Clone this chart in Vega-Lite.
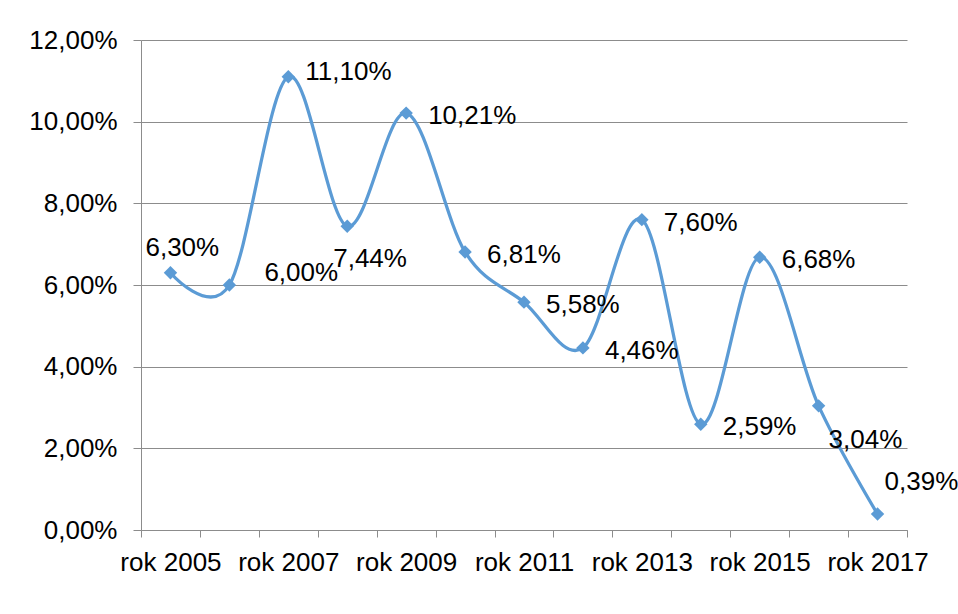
{
  "$schema": "https://vega.github.io/schema/vega-lite/v6.json",
  "width": 766,
  "height": 490,
  "autosize": {"type": "none"},
  "padding": {"left": 141, "top": 40, "right": 51, "bottom": 84},
  "background": "white",
  "config": {
    "locale": {"number": {"decimal": ",", "thousands": "\u00a0", "grouping": [3], "currency": ["", " zł"]}},
    "view": {"stroke": null},
    "font": "Liberation Sans"
  },
  "data": {
    "values": [
      {"rok": "rok 2005", "v": 0.063},
      {"rok": "rok 2006", "v": 0.06},
      {"rok": "rok 2007", "v": 0.111},
      {"rok": "rok 2008", "v": 0.0744},
      {"rok": "rok 2009", "v": 0.1021},
      {"rok": "rok 2010", "v": 0.0681},
      {"rok": "rok 2011", "v": 0.0558},
      {"rok": "rok 2012", "v": 0.0446},
      {"rok": "rok 2013", "v": 0.076},
      {"rok": "rok 2014", "v": 0.0259},
      {"rok": "rok 2015", "v": 0.0668},
      {"rok": "rok 2016", "v": 0.0304},
      {"rok": "rok 2017", "v": 0.0039}
    ]
  },
  "encoding": {
    "x": {
      "field": "rok",
      "type": "nominal",
      "sort": null,
      "bandPosition": 0.5,
      "scale": {"type": "band", "paddingInner": 0, "paddingOuter": 0},
      "axis": {
        "title": null,
        "labelAngle": 0,
        "tickBand": "extent",
        "grid": false,
        "domainColor": "#8c8c8c",
        "tickColor": "#8c8c8c",
        "tickSize": 7,
        "labelFontSize": 26,
        "labelColor": "#000000",
        "labelPadding": 12,
        "labelOverlap": false,
        "labelFlush": false,
        "labelBound": false,
        "labelExpr": "indexof(['rok 2005','rok 2007','rok 2009','rok 2011','rok 2013','rok 2015','rok 2017'], datum.label) >= 0 ? datum.label : ''"
      }
    },
    "y": {
      "field": "v",
      "type": "quantitative",
      "scale": {"domain": [0, 0.12], "nice": false},
      "axis": {
        "title": null,
        "values": [0, 0.02, 0.04, 0.06, 0.08, 0.1, 0.12],
        "format": ".2%",
        "grid": true,
        "gridColor": "#8c8c8c",
        "domainColor": "#8c8c8c",
        "tickColor": "#8c8c8c",
        "tickSize": 8,
        "labelFontSize": 26,
        "labelColor": "#000000",
        "labelPadding": 16
      }
    }
  },
  "layer": [
    {"mark": {"type": "line", "interpolate": "cardinal", "color": "#5B9BD5", "strokeWidth": 3.25}},
    {"mark": {"type": "point", "shape": "diamond", "filled": true, "size": 180, "color": "#5B9BD5", "opacity": 1}},
    {
      "transform": [{"filter": {"field": "rok", "oneOf": ["rok 2009", "rok 2010", "rok 2011", "rok 2012", "rok 2013", "rok 2014", "rok 2015"]}}],
      "mark": {"type": "text", "align": "left", "baseline": "middle", "dx": 22, "dy": 3, "fontSize": 26, "color": "#000000"},
      "encoding": {"text": {"field": "v", "type": "quantitative", "format": ".2%"}}
    },
    {
      "transform": [{"filter": {"field": "rok", "equal": "rok 2007"}}],
      "mark": {"type": "text", "align": "left", "baseline": "middle", "dx": 17, "dy": -5, "fontSize": 26, "color": "#000000"},
      "encoding": {"text": {"field": "v", "type": "quantitative", "format": ".2%"}}
    },
    {
      "transform": [{"filter": {"field": "rok", "equal": "rok 2005"}}],
      "mark": {"type": "text", "align": "left", "baseline": "middle", "dx": -25, "dy": -25, "fontSize": 26, "color": "#000000"},
      "encoding": {"text": {"field": "v", "type": "quantitative", "format": ".2%"}}
    },
    {
      "transform": [{"filter": {"field": "rok", "equal": "rok 2006"}}],
      "mark": {"type": "text", "align": "left", "baseline": "middle", "dx": 35, "dy": -12, "fontSize": 26, "color": "#000000"},
      "encoding": {"text": {"field": "v", "type": "quantitative", "format": ".2%"}}
    },
    {
      "transform": [{"filter": {"field": "rok", "equal": "rok 2008"}}],
      "mark": {"type": "text", "align": "left", "baseline": "middle", "dx": -14, "dy": 33, "fontSize": 26, "color": "#000000"},
      "encoding": {"text": {"field": "v", "type": "quantitative", "format": ".2%"}}
    },
    {
      "transform": [{"filter": {"field": "rok", "equal": "rok 2016"}}],
      "mark": {"type": "text", "align": "left", "baseline": "middle", "dx": 10, "dy": 34, "fontSize": 26, "color": "#000000"},
      "encoding": {"text": {"field": "v", "type": "quantitative", "format": ".2%"}}
    },
    {
      "transform": [{"filter": {"field": "rok", "equal": "rok 2017"}}],
      "mark": {"type": "text", "align": "left", "baseline": "middle", "dx": 7, "dy": -32, "fontSize": 26, "color": "#000000"},
      "encoding": {"text": {"field": "v", "type": "quantitative", "format": ".2%"}}
    }
  ]
}
